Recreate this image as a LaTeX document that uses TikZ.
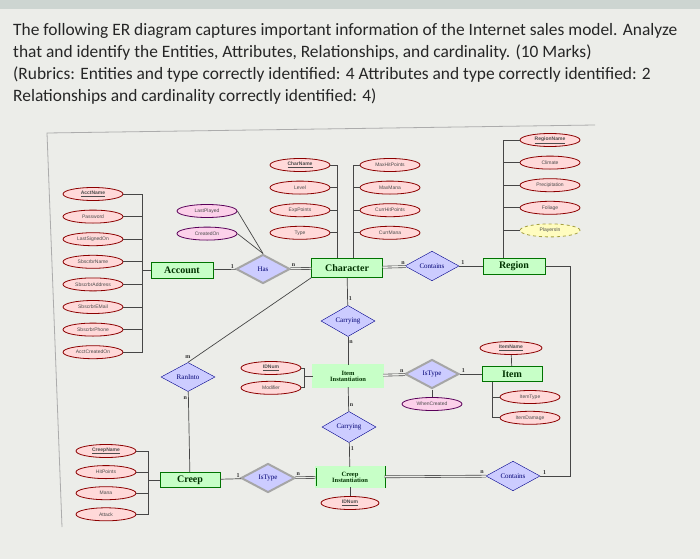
\documentclass[tikz,border=0pt]{standalone}
\usepackage{fontspec}
\setmainfont{Carlito}
\newfontfamily\attrfont{Liberation Sans}
\newfontfamily\erfont{Liberation Serif}
\usetikzlibrary{shapes.geometric, positioning}
\definecolor{pagegray}{RGB}{236,237,233}
\definecolor{edgegray}{RGB}{205,213,209}

\begin{document}
\begin{tikzpicture}[
    x=1pt, y=-1pt,
    node distance=8.8pt,
    entity/.style={draw=green!45!black, rectangle, fill=green!22, minimum width=62pt, minimum height=16pt, inner sep=1pt, font=\erfont\bfseries\fontsize{10}{11}\selectfont, text=green!20!black},
    weak/.style={entity, double=green!22, double distance=1.2pt, align=center, font=\erfont\bfseries\fontsize{6.5}{6}\selectfont},
    rel/.style={draw=blue!55!black, diamond, fill=blue!20, minimum width=54pt, minimum height=29pt, inner sep=0pt, font=\erfont\fontsize{7}{8}\selectfont, text=blue!45!black},
    idrel/.style={rel, draw=gray!70, line width=2pt},
    attr/.style={draw=red!55!black, ellipse, fill=red!15, line width=0.8pt, minimum width=60pt, minimum height=13pt, inner sep=0pt, font=\attrfont\fontsize{5}{5}\selectfont, text=black!70},
    keyattr/.style={attr, font=\attrfont\bfseries\fontsize{5}{5}\selectfont},
    relattr/.style={attr, draw=violet!70!black, fill=magenta!18},
    derived/.style={attr, draw=yellow!60!black, fill=yellow!25, dashed},
    link/.style={draw=gray!55!black, line width=0.7pt},
    total/.style={draw=gray!55!black, double=pagegray, double distance=1.4pt, line width=0.6pt},
    card/.style={font=\erfont\bfseries\fontsize{6}{6}\selectfont, inner sep=1pt, text=black!80}
]

\fill[pagegray] (0,0) rectangle (700,559);
\fill[edgegray] (0,0) rectangle (700,9);
\useasboundingbox (0,0) rectangle (700,559);

\node[anchor=north west, align=left, inner sep=0pt, text=black!85, font=\fontsize{17.4}{22}\selectfont] (question) at (13,23)
  {The following ER diagram captures important information of the Internet sales model. Analyze\\
   that and identify the Entities, Attributes, Relationships, and cardinality. (10 Marks)\\
   (Rubrics: Entities and type correctly identified: 4 Attributes and type correctly identified: 2\\
   Relationships and cardinality correctly identified: 4)};

\draw[gray!65, line width=0.8pt] (595,125) -- (47,133) -- (62,527);

\node[entity] (account) at (182,270) {Account};
\node[entity, minimum width=71pt, minimum height=19pt] (character) at (347,268) {Character};
\node[entity] (region) at (514,266) {Region};
\node[entity, minimum width=60pt, minimum height=15pt] (item) at (512,374) {Item};
\node[entity, minimum width=60pt, minimum height=15pt] (creep) at (190,480) {Creep};
\node[weak, minimum width=70pt, minimum height=22pt] (iteminst) at (348,376) {Item\\Instantiation};
\node[weak, minimum width=69pt, minimum height=20pt] (creepinst) at (350,477) {Creep\\Instantiation};

\node[idrel] (has) at (263,269) {Has};
\node[rel] (contains1) at (432,266) {Contains};
\node[rel] (carrying1) at (348,321) {Carrying};
\node[rel] (ranInto) at (188,377) {RanInto};
\node[idrel] (istype1) at (432,374) {IsType};
\node[rel] (carrying2) at (349,427) {Carrying};
\node[idrel] (istype2) at (268,478) {IsType};
\node[rel] (contains2) at (513,476) {Contains};

\node[keyattr] (acctname) at (93,194) {\underline{AcctName}};
\node[attr, below=of acctname] (password) {Password};
\node[attr, below=of password] (lastsigned) {LastSignedOn};
\node[attr, below=of lastsigned] (sbname) {SbscrbrName};
\node[attr, below=of sbname] (sbaddress) {SbscrbrAddress};
\node[attr, below=of sbaddress] (sbmail) {SbscrbrEMail};
\node[attr, below=of sbmail] (sbphone) {SbscrbrPhone};
\node[attr, below=of sbphone] (acctcreated) {AcctCreatedOn};
\coordinate (acctbus) at (142,270);

\node[relattr] (lastplayed) at (207,211) {LastPlayed};
\node[relattr, below=of lastplayed] (createdon) {CreatedOn};

\node[keyattr] (charname) at (300,165) {\underline{CharName}};
\node[attr, below=of charname] (level) {Level};
\node[attr, below=of level] (exppoints) {ExpPoints};
\node[attr, below=of exppoints] (chartype) {Type};
\node[attr] (maxhp) at (390,165) {MaxHitPoints};
\node[attr, below=of maxhp] (maxmana) {MaxMana};
\node[attr, below=of maxmana] (currhp) {CurrHitPoints};
\node[attr, below=of currhp] (currmana) {CurrMana};

\node[keyattr] (regionname) at (550,140) {\underline{RegionName}};
\node[attr, below=of regionname] (climate) {Climate};
\node[attr, below=of climate] (precip) {Precipitation};
\node[attr, below=of precip] (foliage) {Foliage};
\node[derived, below=of foliage] (playersin) {PlayersIn};

\node[keyattr] (iidnum) at (271,368) {\underline{IDNum}};
\node[attr, below=6pt of iidnum] (modifier) {Modifier};
\coordinate (iibus) at (304,376);
\node[relattr] (whencreated) at (432,404) {WhenCreated};

\node[keyattr, minimum width=62pt] (itemname) at (511,348) {\underline{ItemName}};
\node[attr] (itemtype) at (530,397) {ItemType};
\node[attr, below=7pt of itemtype] (itemdamage) {ItemDamage};

\node[keyattr] (creepname) at (106,451) {\underline{CreepName}};
\node[attr, below=7.3pt of creepname] (hitpoints) {HitPoints};
\node[attr, below=7.3pt of hitpoints] (mana) {Mana};
\node[attr, below=7.3pt of mana] (attack) {Attack};
\coordinate (creepbus) at (148,480);

\node[keyattr, minimum width=58pt] (cidnum) at (350,503) {\underline{IDNum}};
\coordinate (loop) at (570,476);

\draw[link] (acctname.east) -| (acctbus);
\draw[link] (password.east) -| (acctbus);
\draw[link] (lastsigned.east) -| (acctbus);
\draw[link] (sbname.east) -| (acctbus);
\draw[link] (sbaddress.east) -| (acctbus);
\draw[link] (sbmail.east) -| (acctbus);
\draw[link] (sbphone.east) -| (acctbus);
\draw[link] (acctcreated.east) -| (acctbus);
\draw[link] (acctbus) -- (account.west);

\draw[link] (lastplayed.east) -- (has.north);
\draw[link] (createdon.east) -- (has.north);

\draw[link] (charname.east) -| ([xshift=-10pt]character.north);
\draw[link] (level.east) -| ([xshift=-10pt]character.north);
\draw[link] (exppoints.east) -| ([xshift=-10pt]character.north);
\draw[link] (chartype.east) -| ([xshift=-10pt]character.north);
\draw[link] (maxhp.west) -| ([xshift=6pt]character.north);
\draw[link] (maxmana.west) -| ([xshift=6pt]character.north);
\draw[link] (currhp.west) -| ([xshift=6pt]character.north);
\draw[link] (currmana.west) -| ([xshift=6pt]character.north);

\draw[link] (regionname.west) -| ([xshift=-11pt]region.north);
\draw[link] (climate.west) -| ([xshift=-11pt]region.north);
\draw[link] (precip.west) -| ([xshift=-11pt]region.north);
\draw[link] (foliage.west) -| ([xshift=-11pt]region.north);
\draw[link] (playersin.west) -| ([xshift=-11pt]region.north);

\draw[link] (iidnum.east) -| (iibus);
\draw[link] (modifier.east) -| (iibus);
\draw[link] (iibus) -- (iteminst.west);
\draw[link] (istype1) -- (whencreated);

\draw[link] (itemname) -- (item);
\draw[link] (itemtype.west) -| ([xshift=-20pt]item.south);
\draw[link] (itemdamage.west) -| ([xshift=-20pt]item.south);

\draw[link] (creepname.east) -| (creepbus);
\draw[link] (hitpoints.east) -| (creepbus);
\draw[link] (mana.east) -| (creepbus);
\draw[link] (attack.east) -| (creepbus);
\draw[link] (creepbus) -- (creep.west);
\draw[link] (creepinst) -- (cidnum);

\draw[link] (account) -- node[card, above, pos=0.85] {1} (has);
\draw[total] (has) -- node[card, above=1pt, pos=0.15] {n} (character);
\draw[total] (character) -- node[card, above=1pt, pos=0.88] {n} (contains1);
\draw[link] (contains1) -- node[card, above, pos=0.15] {1} (region);
\draw[link] (character) -- node[card, right, pos=0.75] {1} (carrying1);
\draw[link] (carrying1) -- node[card, right, pos=0.2] {n} (iteminst);
\draw[link] (character.south west) -- node[card, above left, pos=0.97] {m} (ranInto.north);
\draw[link] (ranInto) -- node[card, left, pos=0.08] {n} (creep);
\draw[total] (iteminst) -- node[card, above=1pt, pos=0.85] {n} (istype1);
\draw[link] (istype1) -- node[card, above, pos=0.15] {1} (item);
\draw[link] (iteminst) -- node[card, right, pos=0.75] {n} (carrying2);
\draw[link] (carrying2) -- node[card, right, pos=0.25] {1} (creepinst);
\draw[link] (creep) -- node[card, above, pos=0.85] {1} (istype2);
\draw[total] (istype2) -- node[card, above=1pt, pos=0.15] {n} (creepinst);
\draw[total] (creepinst) -- node[card, above=1pt, pos=0.96] {n} (contains2);
\draw[link] (contains2.east) -- node[card, above, pos=0.15] {1} (loop) |- (region.east);

\end{tikzpicture}
\end{document}
